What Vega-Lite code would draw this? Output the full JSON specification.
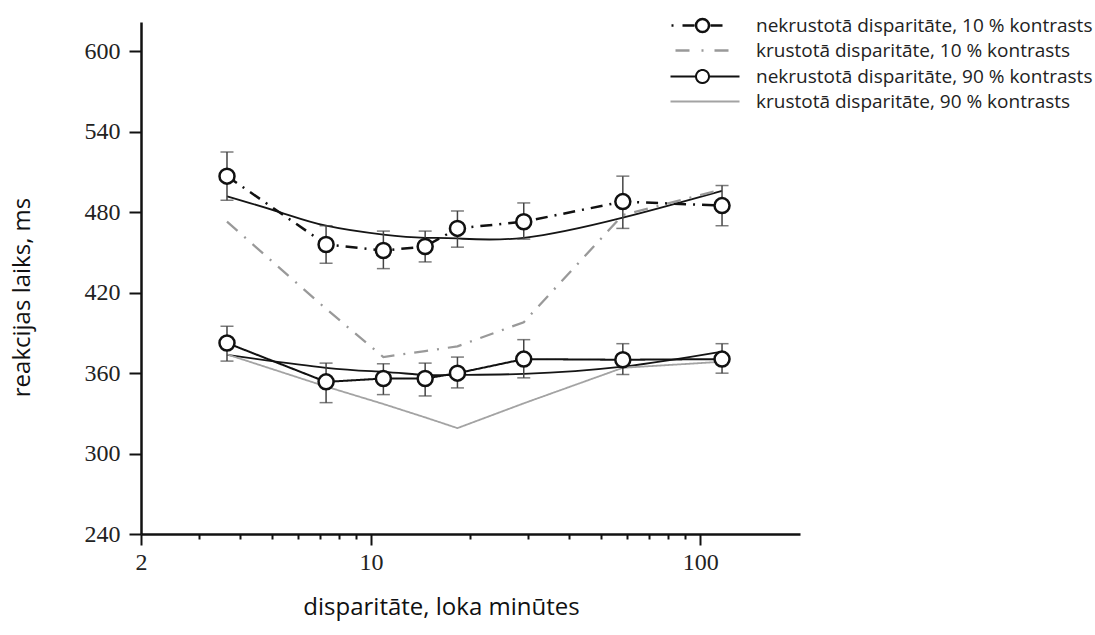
{
  "$schema": "https://vega.github.io/schema/vega-lite/v6.json",
  "width": 659,
  "height": 512,
  "autosize": {"type": "none"},
  "padding": {"left": 141, "top": 22, "right": 295, "bottom": 101},
  "background": "white",
  "config": {"view": {"stroke": null}},
  "datasets": {
    "obs": [
      {"series": "nekrustotā disparitāte, 10 % kontrasts", "x": 3.65, "y": 507, "lo": 489, "hi": 525},
      {"series": "nekrustotā disparitāte, 10 % kontrasts", "x": 7.3, "y": 456, "lo": 442, "hi": 470},
      {"series": "nekrustotā disparitāte, 10 % kontrasts", "x": 10.9, "y": 451.5, "lo": 438, "hi": 466},
      {"series": "nekrustotā disparitāte, 10 % kontrasts", "x": 14.6, "y": 454.5, "lo": 443, "hi": 466},
      {"series": "nekrustotā disparitāte, 10 % kontrasts", "x": 18.3, "y": 468, "lo": 454, "hi": 481},
      {"series": "nekrustotā disparitāte, 10 % kontrasts", "x": 29.1, "y": 473, "lo": 460, "hi": 487},
      {"series": "nekrustotā disparitāte, 10 % kontrasts", "x": 58.2, "y": 488, "lo": 468, "hi": 507},
      {"series": "nekrustotā disparitāte, 10 % kontrasts", "x": 116.5, "y": 485, "lo": 470, "hi": 500},
      {"series": "krustotā disparitāte, 10 % kontrasts", "x": 3.65, "y": 473},
      {"series": "krustotā disparitāte, 10 % kontrasts", "x": 7.3, "y": 408},
      {"series": "krustotā disparitāte, 10 % kontrasts", "x": 10.9, "y": 372},
      {"series": "krustotā disparitāte, 10 % kontrasts", "x": 14.6, "y": 376.5},
      {"series": "krustotā disparitāte, 10 % kontrasts", "x": 18.3, "y": 380},
      {"series": "krustotā disparitāte, 10 % kontrasts", "x": 29.1, "y": 398},
      {"series": "krustotā disparitāte, 10 % kontrasts", "x": 58.2, "y": 478},
      {"series": "krustotā disparitāte, 10 % kontrasts", "x": 116.5, "y": 497},
      {"series": "nekrustotā disparitāte, 90 % kontrasts", "x": 3.65, "y": 382.5, "lo": 369, "hi": 395},
      {"series": "nekrustotā disparitāte, 90 % kontrasts", "x": 7.3, "y": 353.5, "lo": 338, "hi": 367.5},
      {"series": "nekrustotā disparitāte, 90 % kontrasts", "x": 10.9, "y": 356, "lo": 344, "hi": 367},
      {"series": "nekrustotā disparitāte, 90 % kontrasts", "x": 14.6, "y": 356, "lo": 343, "hi": 367.5},
      {"series": "nekrustotā disparitāte, 90 % kontrasts", "x": 18.3, "y": 360, "lo": 349, "hi": 372},
      {"series": "nekrustotā disparitāte, 90 % kontrasts", "x": 29.1, "y": 370.5, "lo": 356.5, "hi": 385},
      {"series": "nekrustotā disparitāte, 90 % kontrasts", "x": 58.2, "y": 370, "lo": 359, "hi": 382},
      {"series": "nekrustotā disparitāte, 90 % kontrasts", "x": 116.5, "y": 370.5, "lo": 360, "hi": 382},
      {"series": "krustotā disparitāte, 90 % kontrasts", "x": 3.65, "y": 374},
      {"series": "krustotā disparitāte, 90 % kontrasts", "x": 7.3, "y": 350},
      {"series": "krustotā disparitāte, 90 % kontrasts", "x": 10.9, "y": 337},
      {"series": "krustotā disparitāte, 90 % kontrasts", "x": 14.6, "y": 327},
      {"series": "krustotā disparitāte, 90 % kontrasts", "x": 18.3, "y": 319},
      {"series": "krustotā disparitāte, 90 % kontrasts", "x": 29.1, "y": 337.5},
      {"series": "krustotā disparitāte, 90 % kontrasts", "x": 58.2, "y": 364},
      {"series": "krustotā disparitāte, 90 % kontrasts", "x": 116.5, "y": 368.5}
    ],
    "fit": [
      {"curve": "fit10", "x": 3.65, "y": 492},
      {"curve": "fit10", "x": 5.3, "y": 480},
      {"curve": "fit10", "x": 7.3, "y": 470},
      {"curve": "fit10", "x": 10.9, "y": 463.4},
      {"curve": "fit10", "x": 14.6, "y": 461},
      {"curve": "fit10", "x": 18.3, "y": 460.5},
      {"curve": "fit10", "x": 29.1, "y": 461},
      {"curve": "fit10", "x": 58.2, "y": 476},
      {"curve": "fit10", "x": 116.5, "y": 496},
      {"curve": "fit90", "x": 3.65, "y": 373.6},
      {"curve": "fit90", "x": 7.3, "y": 364},
      {"curve": "fit90", "x": 10.9, "y": 361},
      {"curve": "fit90", "x": 14.6, "y": 358.7},
      {"curve": "fit90", "x": 18.3, "y": 358.7},
      {"curve": "fit90", "x": 29.1, "y": 359.5},
      {"curve": "fit90", "x": 58.2, "y": 364.8},
      {"curve": "fit90", "x": 116.5, "y": 376}
    ]
  },
  "encoding": {
    "x": {
      "field": "x",
      "type": "quantitative",
      "scale": {"type": "log", "domain": [2, 201], "nice": false},
      "axis": {
        "title": "disparitāte, loka minūtes",
        "values": [2, 3, 4, 5, 6, 7, 8, 9, 10, 20, 30, 40, 50, 60, 70, 80, 90, 100],
        "labelExpr": "indexof([2,10,100], datum.value) >= 0 ? datum.value : ''",
        "tickSize": {"condition": {"test": "indexof([2,10,100], datum.value) >= 0", "value": 11}, "value": 5},
        "grid": false,
        "labelOverlap": false,
        "labelFlush": false,
        "domainColor": "#111111",
        "domainWidth": 2.5,
        "tickColor": "#111111",
        "tickWidth": 2,
        "labelFont": "Liberation Serif",
        "labelFontSize": 24,
        "labelColor": "#222222",
        "labelPadding": 5,
        "titleFont": "Open Sans",
        "titleFontSize": 24,
        "titleFontWeight": "normal",
        "titleColor": "#111111",
        "titleX": 300,
        "titleY": 73,
        "titleAlign": "center",
        "titleBaseline": "middle"
      }
    },
    "y": {
      "field": "y",
      "type": "quantitative",
      "scale": {"domain": [240, 622], "nice": false, "zero": false},
      "axis": {
        "title": "reakcijas laiks, ms",
        "values": [240, 300, 360, 420, 480, 540, 600],
        "grid": false,
        "labelFlush": false,
        "domainColor": "#111111",
        "domainWidth": 2.5,
        "tickColor": "#111111",
        "tickWidth": 2,
        "tickSize": 12,
        "labelFont": "Liberation Serif",
        "labelFontSize": 24,
        "labelColor": "#222222",
        "labelPadding": 9,
        "titleFont": "Open Sans",
        "titleFontSize": 24,
        "titleFontWeight": "normal",
        "titleColor": "#111111",
        "titleAngle": -90,
        "titleX": -119,
        "titleY": 275,
        "titleAlign": "center",
        "titleBaseline": "middle"
      }
    }
  },
  "layer": [
    {
      "data": {"name": "fit"},
      "mark": {"type": "line", "interpolate": "natural", "color": "#151515", "strokeWidth": 1.8},
      "encoding": {"detail": {"field": "curve", "type": "nominal"}}
    },
    {
      "data": {"name": "obs"},
      "transform": [{"calculate": "datum.series", "as": "style"}],
      "mark": {"type": "line"},
      "encoding": {
        "color": {
          "field": "series",
          "type": "nominal",
          "scale": {
            "domain": ["nekrustotā disparitāte, 10 % kontrasts", "krustotā disparitāte, 10 % kontrasts", "nekrustotā disparitāte, 90 % kontrasts", "krustotā disparitāte, 90 % kontrasts"],
            "range": ["#111111", "#999999", "#111111", "#a3a3a3"]
          },
          "legend": {
            "title": null,
            "orient": "none",
            "legendX": 592,
            "legendY": -6,
            "padding": 0,
            "labelFont": "Open Sans",
            "labelFontSize": 19,
            "labelColor": "#222222",
            "labelLimit": 0,
            "labelOffset": 4,
            "symbolSize": 100,
            "symbolDash": [1, 0],
            "symbolDashOffset": 0,
            "rowPadding": 4,
            "encode": {
              "symbols": {
                "update": {
                  "shape": {"signal": "indexof(datum.value, 'nekrustot') == 0 && indexof(datum.value, '10 %') > 0 ? 'M-9.3,0A1.3,1.3 0 0,1 -8,-1.3M-8,-1.3A1.3,1.3 0 0,1 -6.7,0M-6.7,0A1.3,1.3 0 0,1 -8,1.3M-8,1.3A1.3,1.3 0 0,1 -9.3,0M-14.2,0L-13.8,0M-12.0,0L-9.6,0M-6.4,0L-4.0,0' : indexof(datum.value, 'krustot') == 0 && indexof(datum.value, '10 %') > 0 ? 'M-13.4,0L-10.6,0M-8.2,0L-7.8,0M-5.6,0L-2.8,0' : indexof(datum.value, 'nekrustot') == 0 ? 'M-14.4,0L-9.3,0M-6.7,0L-0.6,0M-9.3,0A1.3,1.3 0 1,1 -6.7,0A1.3,1.3 0 1,1 -9.3,0' : 'M-14.4,0L-0.6,0'"},
                  "fill": {"value": "white"},
                  "fillOpacity": {"value": 1},
                  "strokeWidth": {"signal": "indexof(datum.value, 'nekrustot') == 0 ? 2.5 : 2"},
                  "strokeDash": {"signal": "[1, 0]"},
                  "opacity": {"value": 1}
                }
              }
            }
          }
        },
        "strokeDash": {
          "field": "style",
          "type": "nominal",
          "scale": {
            "domain": ["nekrustotā disparitāte, 10 % kontrasts", "krustotā disparitāte, 10 % kontrasts", "nekrustotā disparitāte, 90 % kontrasts", "krustotā disparitāte, 90 % kontrasts"],
            "range": [[12, 7, 2, 7], [14, 9, 2, 9], [1, 0], [1, 0]]
          },
          "legend": null
        },
        "strokeWidth": {
          "field": "style",
          "type": "ordinal",
          "scale": {
            "domain": ["nekrustotā disparitāte, 10 % kontrasts", "krustotā disparitāte, 10 % kontrasts", "nekrustotā disparitāte, 90 % kontrasts", "krustotā disparitāte, 90 % kontrasts"],
            "range": [2.5, 1.8, 2.5, 2]
          },
          "legend": null
        }
      }
    },
    {
      "data": {"name": "obs"},
      "transform": [{"filter": "isValid(datum.lo)"}],
      "mark": {"type": "rule", "color": "#444444", "strokeWidth": 1.5},
      "encoding": {
        "y": {"field": "lo", "type": "quantitative"},
        "y2": {"field": "hi"}
      }
    },
    {
      "data": {"name": "obs"},
      "transform": [{"filter": "isValid(datum.lo)"}],
      "mark": {"type": "tick", "orient": "horizontal", "size": 13, "thickness": 1.5, "color": "#444444"},
      "encoding": {"y": {"field": "lo", "type": "quantitative"}}
    },
    {
      "data": {"name": "obs"},
      "transform": [{"filter": "isValid(datum.lo)"}],
      "mark": {"type": "tick", "orient": "horizontal", "size": 13, "thickness": 1.5, "color": "#444444"},
      "encoding": {"y": {"field": "hi", "type": "quantitative"}}
    },
    {
      "data": {"name": "obs"},
      "transform": [{"filter": "isValid(datum.lo)"}],
      "mark": {"type": "point", "shape": "circle", "filled": true, "fill": "white", "stroke": "#111111", "strokeWidth": 2.5, "size": 225, "opacity": 1}
    }
  ]
}
